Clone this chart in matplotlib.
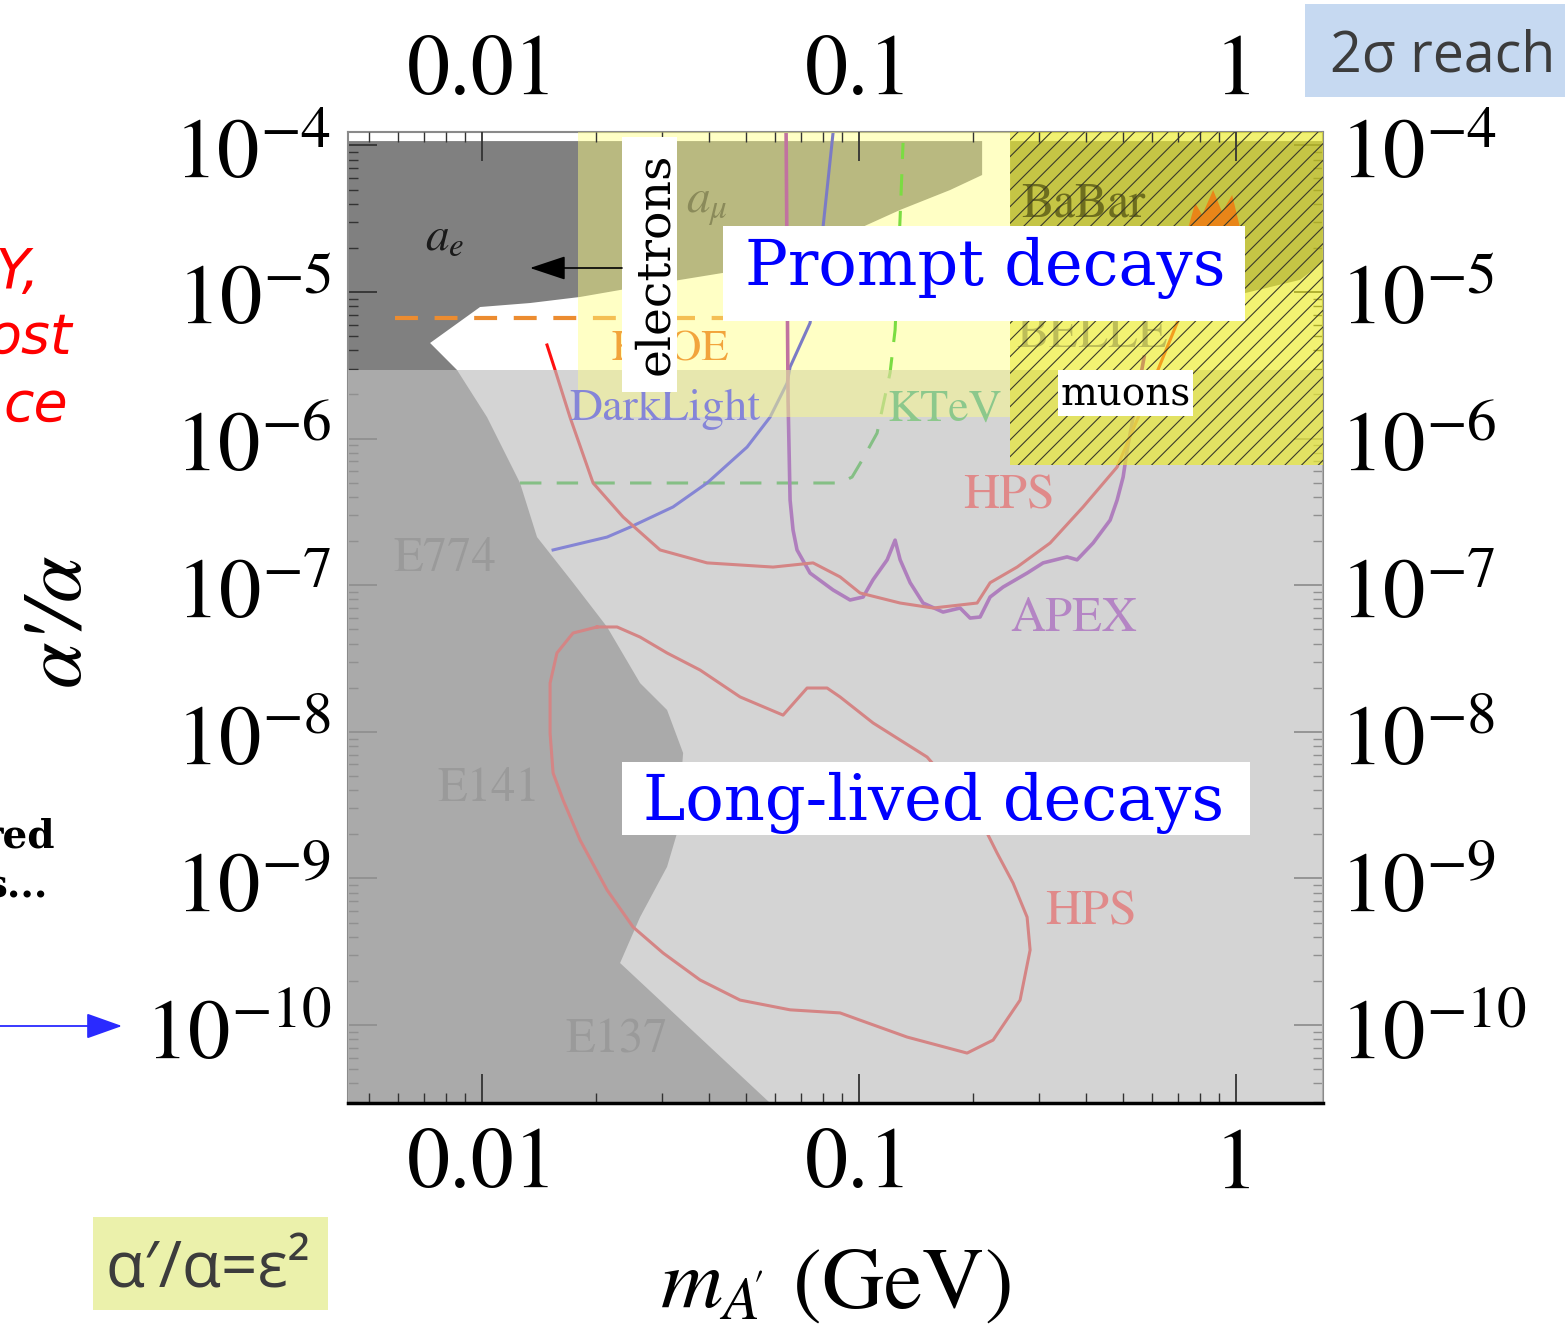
import matplotlib
matplotlib.use("Agg")
import matplotlib.pyplot as plt
from matplotlib.patches import Rectangle, FancyArrowPatch
from matplotlib.ticker import FixedLocator, FixedFormatter, LogLocator, NullFormatter
from matplotlib.transforms import ScaledTranslation

# ---------------------------------------------------------------- data --
mass_range = (0.00441, 1.70)            # m_A' (GeV)
ratio_range = (2.94e-11, 1.234e-4)      # alpha'/alpha

mass_ticks = [0.01, 0.1, 1.0]
mass_tick_labels = ["0.01", "0.1", "1"]
ratio_ticks = [1e-10, 1e-9, 1e-8, 1e-7, 1e-6, 1e-5, 1e-4]
ratio_tick_labels = [r"$10^{-10}$", r"$10^{-9}$", r"$10^{-8}$", r"$10^{-7}$",
                     r"$10^{-6}$", r"$10^{-5}$", r"$10^{-4}$"]

# excluded: a_e, a_mu and the beam dumps E774 / E141 / E137
excluded_mass = [0.00441, 0.2120, 0.2120, 0.1743, 0.1285, 0.1006, 0.06973,
                 0.05462, 0.04358, 0.02790, 0.01819, 0.01341, 0.00988,
                 0.00728, 0.00760, 0.00858, 0.01031, 0.01261, 0.01399,
                 0.01743, 0.02146, 0.02625, 0.03095, 0.03414, 0.03290,
                 0.03095, 0.02625, 0.02323, 0.05805, 0.00441]
excluded_ratio = [1.07e-4, 1.07e-4, 6.28e-5, 4.96e-5, 3.63e-5, 2.73e-5, 2.26e-5,
                  1.79e-5, 1.35e-5, 1.12e-5, 9.25e-6, 8.41e-6, 7.90e-6,
                  4.49e-6, 4.02e-6, 2.94e-6, 1.40e-6, 4.98e-7, 2.13e-7,
                  1.04e-7, 5.19e-8, 2.15e-8, 1.41e-8, 7.17e-9, 2.04e-9,
                  1.20e-9, 5.45e-10, 2.65e-10, 2.94e-11, 2.94e-11]

# excluded: BaBar
babar_mass = [0.2515, 1.70, 1.70, 1.478, 1.057, 0.2515]
babar_ratio = [1.07e-4, 1.07e-4, 1.60e-5, 1.21e-5, 9.84e-6, 2.73e-5]

# narrow resonance band near 1 GeV
band_mass = [0.746, 0.779, 0.813, 0.869, 0.918, 0.976, 1.025]
band_ratio = [2.73e-5, 4.05e-5, 3.35e-5, 4.96e-5, 3.51e-5, 4.59e-5, 2.73e-5]

# KLOE (dashed)
kloe_mass = [0.00588, 0.04835]
kloe_ratio = [6.65e-6, 6.65e-6]

# KTeV (dashed)
ktev_mass = [0.01261, 0.08903, 0.09581, 0.1019, 0.1116, 0.1208, 0.1246, 0.1285, 0.1308]
ktev_ratio = [4.98e-7, 4.98e-7, 5.47e-7, 7.14e-7, 1.09e-6, 2.80e-6, 5.51e-6, 3.25e-5, 1.04e-4]

# DarkLight reach
darklight_mass = [0.01543, 0.02146, 0.02470, 0.03211, 0.03952, 0.05046,
                  0.05805, 0.06442, 0.06561, 0.07413, 0.08025, 0.08531]
darklight_ratio = [1.74e-7, 2.13e-7, 2.49e-7, 3.42e-7, 4.98e-7, 8.76e-7,
                   1.40e-6, 2.39e-6, 3.08e-6, 6.15e-6, 2.78e-5, 1.22e-4]

# APEX reach
apex_mass = [0.06403, 0.06481, 0.06561, 0.06681, 0.06846, 0.07413, 0.08531,
             0.09465, 0.1025, 0.1089, 0.1187, 0.1246, 0.1285, 0.1366, 0.1478,
             0.1670, 0.1853, 0.1970, 0.2094, 0.2226, 0.2410, 0.2790, 0.3077,
             0.3562, 0.3786, 0.4175, 0.4633, 0.4835, 0.5016, 0.5140, 0.5702]
apex_ratio = [1.23e-4, 1.83e-6, 3.81e-7, 2.38e-7, 1.74e-7, 1.21e-7, 9.28e-8,
              7.93e-8, 8.31e-8, 1.09e-7, 1.49e-7, 2.03e-7, 1.49e-7, 1.04e-7,
              7.56e-8, 6.56e-8, 6.99e-8, 5.97e-8, 6.07e-8, 8.31e-8, 9.72e-8,
              1.21e-7, 1.42e-7, 1.56e-7, 1.49e-7, 1.94e-7, 2.78e-7, 3.81e-7,
              5.47e-7, 8.36e-7, 3.60e-6]

# HPS reach, prompt decays
hps_prompt_mass = [0.01487, 0.01562, 0.01711, 0.01970, 0.02366, 0.02966,
                   0.03952, 0.05914, 0.07551, 0.08903, 0.1006, 0.1285,
                   0.1572, 0.2056, 0.2226, 0.2625, 0.3211, 0.3928, 0.4835,
                   0.5462, 0.6249, 0.6973, 0.7321]
hps_prompt_ratio = [4.35e-6, 2.94e-6, 1.40e-6, 4.98e-7, 2.92e-7, 1.74e-7,
                    1.42e-7, 1.33e-7, 1.42e-7, 1.14e-7, 8.85e-8, 7.56e-8,
                    6.99e-8, 7.56e-8, 1.04e-7, 1.33e-7, 1.94e-7, 3.42e-7,
                    6.40e-7, 1.34e-6, 3.08e-6, 6.15e-6, 8.82e-6]

# HPS reach, displaced vertices (closed contour)
hps_displaced_mass = [0.02018, 0.01743, 0.01580, 0.01515, 0.01515, 0.01543,
                      0.01640, 0.01819, 0.02146, 0.02515, 0.03021, 0.03786,
                      0.04835, 0.06561, 0.08903, 0.1006, 0.1341, 0.1934,
                      0.2267, 0.2673, 0.2842, 0.2790, 0.2561, 0.2323, 0.2185,
                      0.1853, 0.1515, 0.1089, 0.08903, 0.08225, 0.07279,
                      0.06286, 0.04835, 0.03786, 0.03095, 0.02625, 0.02281,
                      0.02018]
hps_displaced_ratio = [5.19e-8, 4.72e-8, 3.45e-8, 2.15e-8, 9.81e-9, 5.24e-9,
                       3.43e-9, 1.83e-9, 8.34e-10, 4.66e-10, 3.10e-10, 2.03e-10,
                       1.48e-10, 1.27e-10, 1.21e-10, 1.08e-10, 8.28e-11,
                       6.44e-11, 7.90e-11, 1.48e-10, 3.25e-10, 5.45e-10,
                       9.30e-10, 1.49e-9, 2.04e-9, 3.71e-9, 6.73e-9, 1.15e-8,
                       1.73e-8, 1.99e-8, 1.99e-8, 1.30e-8, 1.73e-8, 2.64e-8,
                       3.45e-8, 4.43e-8, 5.19e-8, 5.19e-8]

# highlighted parameter regions
electron_prompt_mass = (0.01797, 0.2515)
electron_prompt_ratio_min = 1.40e-6
muon_mass = (0.2515, 1.70)
muon_ratio_min = 6.60e-7
displaced_ratio_max = 2.94e-6

# ---------------------------------------------------------------- figure --
plt.rcParams['mathtext.fontset'] = 'stix'
plt.rcParams['hatch.linewidth'] = 0.8

W, H = 1565, 1326
fig = plt.figure(figsize=(W / 100, H / 100), dpi=100)
fig.patch.set_facecolor('white')


def fx(px):
    return px / W


def fy(py):
    return 1 - py / H


ax = fig.add_axes([fx(348), fy(1103), fx(1323) - fx(348), fy(132) - fy(1103)])
ax.set_xscale('log')
ax.set_yscale('log')
ax.set_xlim(mass_range)
ax.set_ylim(ratio_range)
ax.set_facecolor('white')

# excluded regions
ax.fill(excluded_mass, excluded_ratio, color='#808080', lw=0, zorder=1)
ax.fill(babar_mass, babar_ratio, color='#808080', lw=0, zorder=1)

# experiment curves
ax.plot(kloe_mass, kloe_ratio, color='#ec8c30', lw=3.0, dashes=(5.5, 4), zorder=2)
ax.plot(ktev_mass, ktev_ratio, color='#10c010', lw=2.2, dashes=(7, 5), zorder=2)
ax.plot(darklight_mass, darklight_ratio, color='#1010ff', lw=2.2, zorder=2)
ax.plot(apex_mass, apex_ratio, color='#9000bb', lw=2.6, zorder=2)
ax.plot(hps_prompt_mass, hps_prompt_ratio, color='#ff1010', lw=2.2, zorder=2)
ax.plot(hps_displaced_mass, hps_displaced_ratio, color='#ff1010', lw=2.2, zorder=2)

# shaded bands
top = ratio_range[1]
ax.add_patch(Rectangle((mass_range[0], ratio_range[0]), mass_range[1] - mass_range[0],
                       displaced_ratio_max - ratio_range[0],
                       facecolor='#bfbfbf', alpha=0.669, lw=0, zorder=3))
ax.add_patch(Rectangle((electron_prompt_mass[0], electron_prompt_ratio_min),
                       electron_prompt_mass[1] - electron_prompt_mass[0],
                       top - electron_prompt_ratio_min,
                       facecolor='#ffff80', alpha=0.45, lw=0, zorder=3.2))
ax.add_patch(Rectangle((muon_mass[0], muon_ratio_min), muon_mass[1] - muon_mass[0],
                       top - muon_ratio_min,
                       facecolor=(0.92, 0.92, 0.15, 0.65), lw=0, zorder=3.4))
ax.fill(band_mass, band_ratio, color='#f07a10', alpha=0.85, lw=0, zorder=3.5)

# curve and region labels
serif = 'STIXGeneral'
labels = [
    (r"$a_e$", 0.00798, 2.34e-5, '#1a1a1a', 34),
    (r"$a_\mu$", 0.0395, 3.80e-5, '#8a8a5a', 34),
    ("BaBar", 0.3928, 3.92e-5, '#6e6e1e', 35),
    ("BELLE", 0.415, 5.01e-6, '#bdbd58', 35),
    ("KLOE", 0.0315, 4.02e-6, '#f2a43c', 32),
    ("DarkLight", 0.0306, 1.57e-6, '#8585d8', 33),
    ("KTeV", 0.169, 1.57e-6, '#8cc88c', 33),
    ("E774", 0.00798, 1.49e-7, '#9a9a9a', 35),
    ("E141", 0.01044, 4.07e-9, '#9a9a9a', 35),
    ("E137", 0.02281, 7.78e-11, '#9a9a9a', 35),
    ("HPS", 0.250, 4.00e-7, '#e08a8a', 36),
    ("APEX", 0.372, 5.79e-8, '#b485c4', 35),
    ("HPS", 0.4125, 5.81e-10, '#e08a8a', 36),
]
for s, m, r, c, size in labels:
    ax.text(m, r, s, color=c, fontsize=size, family=serif, ha='center',
            va='center', zorder=3.6)

# hatching over the muon band
ax.add_patch(Rectangle((muon_mass[0], muon_ratio_min), muon_mass[1] - muon_mass[0],
                       top - muon_ratio_min, facecolor='none', edgecolor='#3a3a2a',
                       hatch='//', lw=0, zorder=3.8))

# axes, ticks
ax.xaxis.set_major_locator(FixedLocator(mass_ticks))
ax.xaxis.set_major_formatter(FixedFormatter(mass_tick_labels))
ax.xaxis.set_minor_locator(LogLocator(base=10, subs=range(2, 10)))
ax.xaxis.set_minor_formatter(NullFormatter())
ax.yaxis.set_major_locator(FixedLocator(ratio_ticks))
ax.yaxis.set_major_formatter(FixedFormatter(ratio_tick_labels))
ax.yaxis.set_minor_locator(LogLocator(base=10, subs=range(2, 10), numticks=20))
ax.yaxis.set_minor_formatter(NullFormatter())

ax.tick_params(which='both', direction='in', top=True, right=True,
               labeltop=True, labelright=True, colors='#333333', labelcolor='black')
ax.tick_params(which='major', length=21, width=1.3)
ax.tick_params(which='minor', length=7, width=1.0)
ax.tick_params(axis='x', labelsize=62, pad=18, labelfontfamily=serif)
ax.tick_params(axis='y', labelsize=61, pad=12)
ax.xaxis.set_zorder(3.9)

# top mass labels sit a little lower than the shared pad gives
for tick in ax.xaxis.get_major_ticks(len(mass_ticks)):
    tick.label2.set_transform(tick.label2.get_transform() +
                              ScaledTranslation(0, -6 / 100, fig.dpi_scale_trans))

for side in ('top', 'left', 'right'):
    ax.spines[side].set_color('#8a8a8a')
    ax.spines[side].set_linewidth(1.5)
ax.spines['bottom'].set_color('black')
ax.spines['bottom'].set_linewidth(2.5)
ax.spines['bottom'].set_zorder(4)

# axis titles
fig.text(fx(835), fy(1287), r"$m_{A\!'}$ (GeV)", fontsize=62, family=serif,
         ha='center', va='center')
fig.text(fx(58), fy(619), "α'/α", fontsize=60, family=serif, style='italic',
         rotation=90, ha='center', va='center')


# ---------------------------------------------------------- annotations --
def box(x0, y0, x1, y1, color='white'):
    fig.add_artist(Rectangle((fx(x0), fy(y1)), fx(x1) - fx(x0), fy(y0) - fy(y1),
                             transform=fig.transFigure, facecolor=color,
                             edgecolor='none', zorder=10))


box_font = 'DejaVu Serif'
box(622, 137, 677, 392)
fig.text(fx(655), fy(264), "electrons", rotation=90, fontsize=34, family=box_font,
         ha='center', va='center', zorder=11)
box(723, 226, 1245, 321)
fig.text(fx(745), fy(285), "Prompt decays", fontsize=46, family=box_font,
         color='#0000ff', ha='left', va='baseline', zorder=11)
box(622, 762, 1250, 835)
fig.text(fx(643), fy(820), "Long-lived decays", fontsize=46, family=box_font,
         color='#0000ff', ha='left', va='baseline', zorder=11)
box(1058, 370, 1193, 416)
fig.text(fx(1061), fy(406), "muons", fontsize=28, family=box_font,
         color='black', ha='left', va='baseline', zorder=11)

fig.add_artist(FancyArrowPatch((fx(622), fy(268)), (fx(530), fy(268)),
                               transform=fig.transFigure,
                               arrowstyle='-|>,head_length=0.45,head_width=0.15',
                               mutation_scale=50, color='black', lw=1.2,
                               shrinkA=0, shrinkB=0, zorder=12))

# slide notes around the plot
sans = ['Open Sans', 'DejaVu Sans']
box(1305, 4, 1565, 97, color='#c6d9f1')
fig.text(fx(1330), fy(72), "2σ reach", fontsize=40, family=sans, color='#3c3c3c',
         ha='left', va='baseline', zorder=11)
box(93, 1217, 328, 1310, color='#ebf1ab')
fig.text(fx(106), fy(1287), "α′/α=ε²", fontsize=46, family=sans, color='#3c3c3c',
         ha='left', va='baseline', zorder=11)

red_note = dict(fontsize=40, family='DejaVu Sans', style='italic', color='#ff0000',
                ha='right', va='baseline')
fig.text(fx(40), fy(288), "Y,", **red_note)
fig.text(fx(72), fy(353), "ost", **red_note)
fig.text(fx(68), fy(421), "ce", **red_note)

bold_note = dict(fontsize=28, family='DejaVu Serif', weight='bold', color='black',
                 ha='right', va='baseline')
fig.text(fx(55), fy(848), "red", **bold_note)
fig.text(fx(48), fy(897), "s...", **bold_note)

fig.add_artist(FancyArrowPatch((fx(-5), fy(1026)), (fx(122), fy(1026)),
                               transform=fig.transFigure,
                               arrowstyle='-|>,head_length=0.45,head_width=0.16',
                               mutation_scale=50, color='#2a2aff', lw=1.3,
                               shrinkA=0, shrinkB=0, zorder=12))

fig.savefig('out.png', dpi=100)
